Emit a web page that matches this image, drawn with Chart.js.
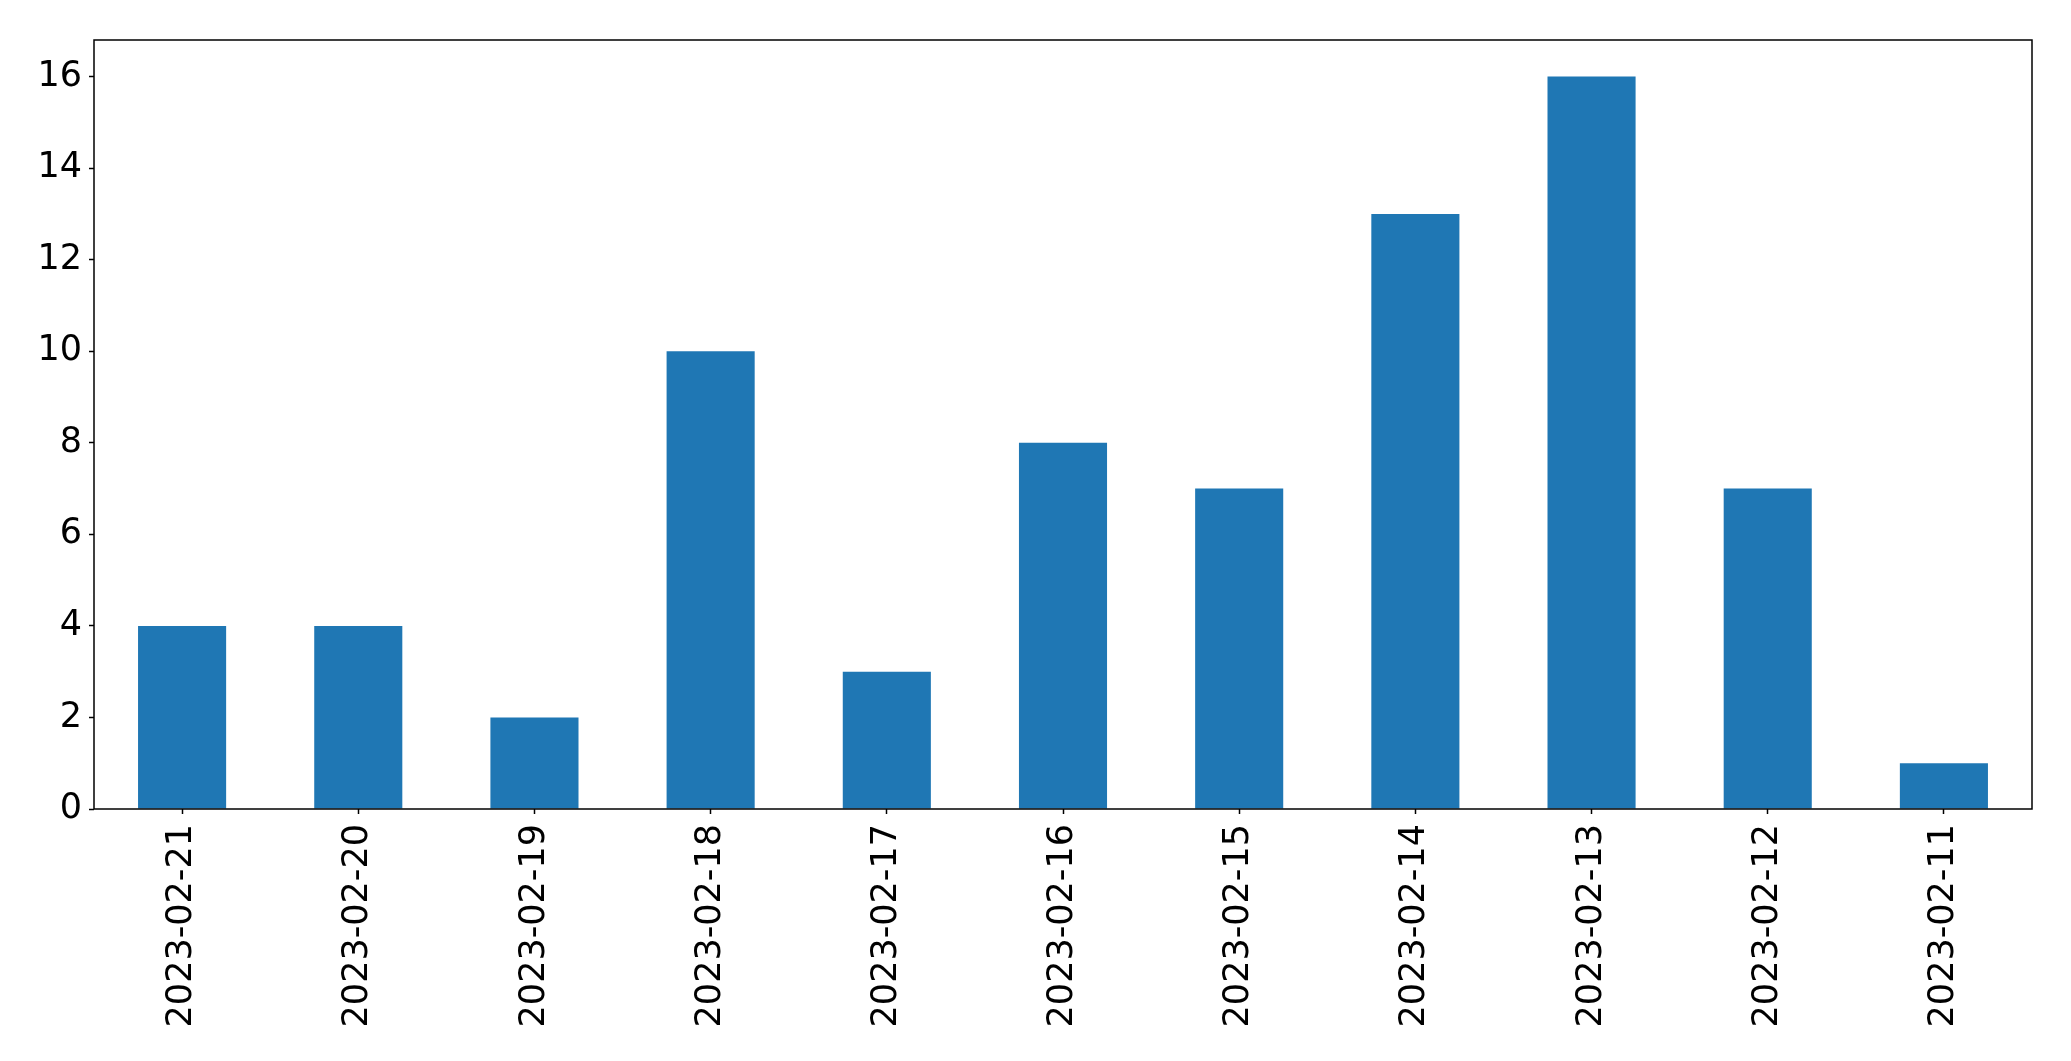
<!DOCTYPE html>
<html>
<head>
<meta charset="utf-8">
<script src="https://cdn.jsdelivr.net/npm/chart.js@4"></script>
<style>
  html, body { margin: 0; padding: 0; background: #fff; }
  #wrap { width: 2071px; height: 1061px; }
</style>
</head>
<body>
<div id="wrap"><canvas id="chart" width="2071" height="1061"></canvas></div>
<script>
const dates = ['2023-02-21', '2023-02-20', '2023-02-19', '2023-02-18', '2023-02-17', '2023-02-16',
  '2023-02-15', '2023-02-14', '2023-02-13', '2023-02-12', '2023-02-11']
const counts = [4, 4, 2, 10, 3, 8, 7, 13, 16, 7, 1]
const yTicks = [0, 2, 4, 6, 8, 10, 12, 14, 16]

// box round the plot, like matplotlib's spines
const frame = {
  id: 'frame',
  afterDraw(chart) {
    let a = chart.chartArea
    let ctx = chart.ctx
    ctx.save()
    ctx.strokeStyle = '#000'
    ctx.lineWidth = 1.5
    ctx.strokeRect(a.left, a.top, a.right - a.left, a.bottom - a.top)
    ctx.restore()
  }
}

let font = { family: 'DejaVu Sans', size: 35 }

let ctx = document.getElementById('chart').getContext('2d')
let barChart = new Chart(ctx, {
  type: 'bar',
  data: {
    labels: dates,
    datasets: [{
      data: counts,
      backgroundColor: '#1f77b4',
      categoryPercentage: 1,
      barPercentage: 0.5
    }]
  },
  options: {
    responsive: false,
    animation: false,
    layout: { padding: { top: 40, right: 39, left: 0, bottom: 0 } },
    plugins: { legend: { display: false }, tooltip: { enabled: false } },
    scales: {
      x: {
        grid: { display: true, offset: false, drawOnChartArea: false, tickLength: 5, tickColor: '#000', tickWidth: 1.5 },
        border: { display: false },
        ticks: { color: '#000', font: font, minRotation: 90, maxRotation: 90, padding: 10, autoSkip: false },
        afterFit(scale) { scale.height = 252 }
      },
      y: {
        min: 0,
        max: 16.8,
        afterBuildTicks(scale) { scale.ticks = yTicks.map(v => ({ value: v })) },
        grid: { display: true, drawOnChartArea: false, tickLength: 5, tickColor: '#000', tickWidth: 1.5 },
        border: { display: false },
        ticks: { color: '#000', font: font, padding: 7 },
        afterFit(scale) { scale.width = 94 }
      }
    }
  },
  plugins: [frame]
})
</script>
</body>
</html>
